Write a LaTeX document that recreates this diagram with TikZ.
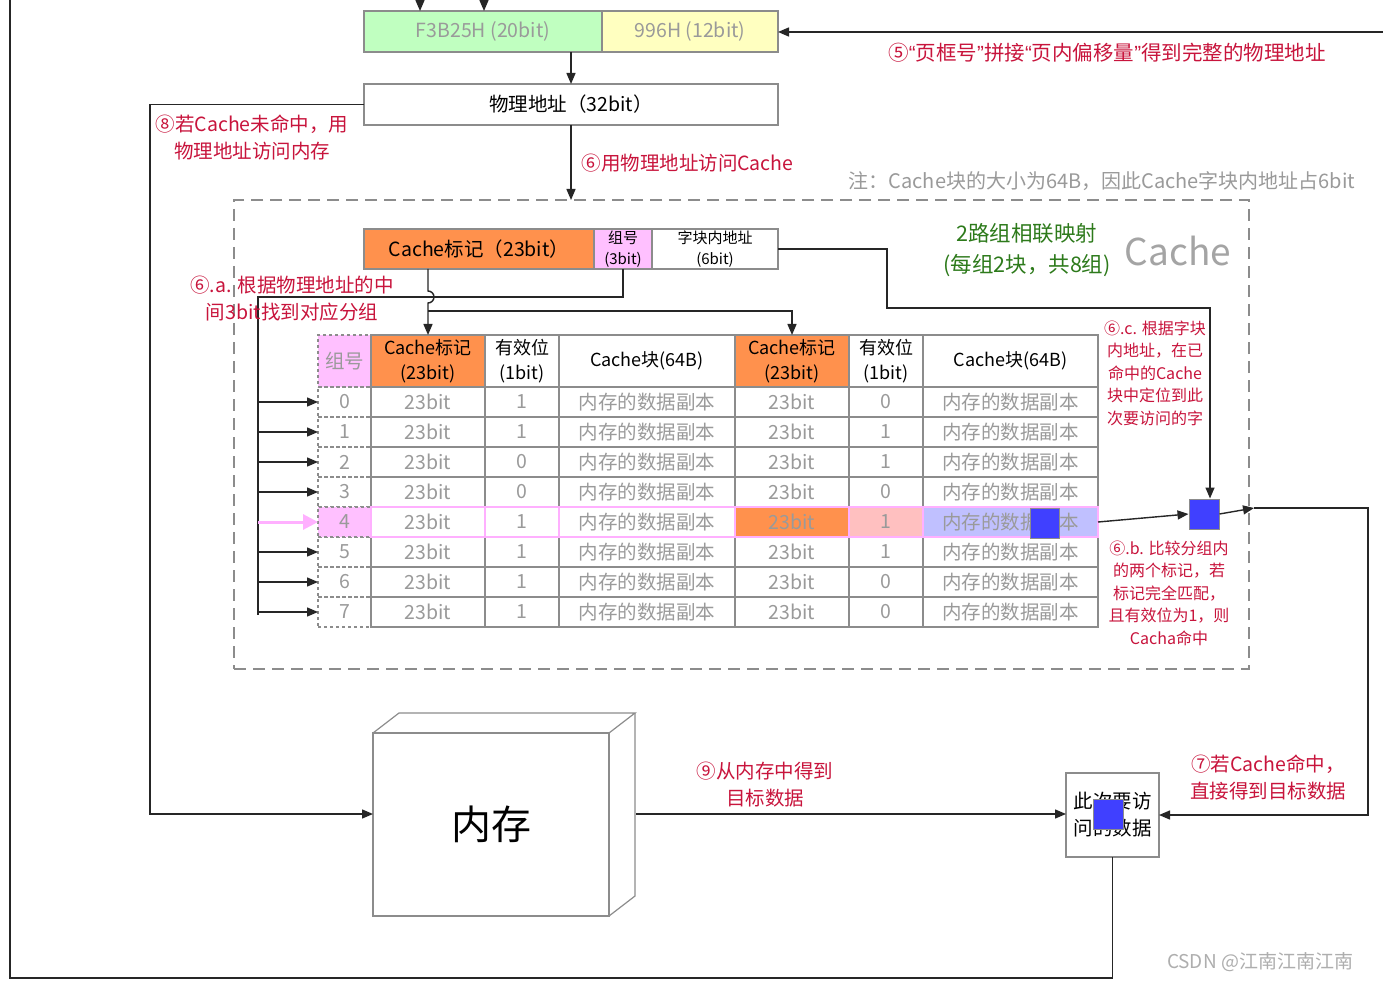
\documentclass[tikz,border=0pt]{standalone}
\usepackage{fontspec}
\setmainfont{Noto Sans CJK SC}
\newfontfamily\latq{Liberation Sans}
\usetikzlibrary{arrows.meta}
\definecolor{lgreen}{HTML}{C0FFC0}
\definecolor{lyellow}{HTML}{FFFFC0}
\definecolor{orng}{HTML}{FF914D}
\definecolor{pnk}{HTML}{FFC0FF}
\definecolor{pnkline}{HTML}{FFB0FF}
\definecolor{salmon}{HTML}{FFC0C0}
\definecolor{lblue}{HTML}{C0C0FF}
\definecolor{blu}{HTML}{4040FF}
\definecolor{redtxt}{HTML}{C8143C}
\definecolor{grntxt}{HTML}{2D7A1B}
\definecolor{gtxt}{HTML}{9A9A9A}
\definecolor{gline}{HTML}{8C8C8C}
\newcommand\mkcell[7]{%
 \pgfmathsetmacro\mcw{#4-#2}\pgfmathsetmacro\mch{#5-#3}%
 \pgfmathsetmacro\mcx{(#2+#4)/2}\pgfmathsetmacro\mcy{(#3+#5)/2}%
 \node[cellbase,#6,minimum width=\mcw pt,minimum height=\mch pt] (#1) at (\mcx,\mcy) {#7};}
\newcommand\myLq{{\latq “}}
\newcommand\myRq{{\latq ”}}
\begin{document}
\begin{tikzpicture}[x=1pt,y=-1pt,
 cellbase/.style={draw=gline,line width=1.5pt,inner sep=0pt,outer sep=0pt,align=center,text=gtxt,font=\fontsize{19.5}{22}\selectfont},
 hdr/.style={text=black,font=\fontsize{18}{25}\selectfont},
 hl/.style={draw=pnkline,line width=2.5pt},
 redl/.style={text=redtxt,align=center,font=\fontsize{19.5}{27}\selectfont},
 redsm/.style={text=redtxt,align=center,font=\fontsize{16}{22.5}\selectfont},
 line/.style={draw=black!85,line width=1.4pt},
 arr/.style={line,-{Triangle[length=11pt,width=9pt]}},
]
\useasboundingbox (0,0) rectangle (1383,981);
\fill[white] (0,0) rectangle (1383,981);

% dashed cache frame
\node[draw=gline,line width=2.5pt,dash pattern=on 12pt off 7pt,minimum width=1015pt,minimum height=469pt,inner sep=0pt,outer sep=0pt] (frame) at (741.5,434.5) {};

% top address boxes
\mkcell{f3}{364}{11}{602}{52}{fill=lgreen}{F3B25H (20bit)}
\mkcell{yel}{602}{11}{778}{52}{fill=lyellow}{996H (12bit)}
\mkcell{phys}{364}{84}{778}{125}{text=black,font=\fontsize{19.5}{22}\selectfont}{物理地址（32bit）}

\coordinate (ta1) at (420,0);
\coordinate (ta2) at (484,0);
\draw[arr] (ta1) -- (ta1 |- f3.north);
\draw[arr] (ta2) -- (ta2 |- f3.north);
\coordinate (r5) at (1383,32);
\draw[arr] (r5) -- (r5 -| yel.east);
\node[redl,font=\fontsize{20.5}{27}\selectfont] (l5) at (1107,53) {⑤\myLq 页框号\myRq 拼接\myLq 页内偏移量\myRq 得到完整的物理地址};
\draw[arr] (f3.south -| phys.north) -- (phys.north);
\draw[arr] (phys.south) -- (phys.south |- frame.north);
\node[redl,anchor=west] (l6) at (578,163) {⑥用物理地址访问Cache};
\node[text=gtxt,font=\fontsize{20}{22}\selectfont] (note) at (1102,181) {注：Cache块的大小为64B，因此Cache字块内地址占6bit};

% address split
\mkcell{tag}{364}{229}{594}{269}{fill=orng,text=black}{Cache标记（23bit）}
\mkcell{grp}{594}{229}{652}{269}{fill=pnk,text=black,font=\fontsize{15}{21}\selectfont}{组号\\(3bit)}
\mkcell{off}{652}{229}{778}{269}{text=black,font=\fontsize{15}{21}\selectfont}{字块内地址\\(6bit)}

\node[text=grntxt,align=center,font=\fontsize{21.5}{31}\selectfont] (green) at (1027,250) {2路组相联映射\\(每组2块，共8组)};
\node[text=gtxt!90,font=\fontsize{37}{40}\selectfont] (cachet) at (1178,251) {Cache};

% header row
\mkcell{h0}{318}{335}{371}{387}{fill=pnk,dashed}{组号}
\mkcell{h1}{371}{335}{485}{387}{fill=orng,hdr}{Cache标记\\(23bit)}
\mkcell{h2}{485}{335}{559}{387}{hdr}{有效位\\(1bit)}
\mkcell{h3}{559}{335}{735}{387}{hdr}{Cache块(64B)}
\mkcell{h5}{735}{335}{849}{387}{fill=orng,hdr}{Cache标记\\(23bit)}
\mkcell{h6}{849}{335}{923}{387}{hdr}{有效位\\(1bit)}
\mkcell{h7}{923}{335}{1098}{387}{hdr}{Cache块(64B)}

% data rows
\foreach \i/\va/\vb in {0/1/0,1/1/1,2/0/1,3/0/0,5/1/1,6/1/0,7/1/0}{
 \pgfmathsetmacro\ya{387+30*\i}\pgfmathsetmacro\yb{417+30*\i}
 \mkcell{g\i}{318}{\ya}{371}{\yb}{dashed}{\i}
 \mkcell{ta\i}{371}{\ya}{485}{\yb}{}{23bit}
 \mkcell{va\i}{485}{\ya}{559}{\yb}{}{\va}
 \mkcell{ba\i}{559}{\ya}{735}{\yb}{}{内存的数据副本}
 \mkcell{tb\i}{735}{\ya}{849}{\yb}{}{23bit}
 \mkcell{vb\i}{849}{\ya}{923}{\yb}{}{\vb}
 \mkcell{bb\i}{923}{\ya}{1098}{\yb}{}{内存的数据副本}
}
% highlighted row 4
\mkcell{g4}{318}{507}{371}{537}{fill=pnk,dashed}{4}
\mkcell{ta4}{371}{507}{485}{537}{hl}{23bit}
\mkcell{va4}{485}{507}{559}{537}{hl}{1}
\mkcell{ba4}{559}{507}{735}{537}{hl}{内存的数据副本}
\mkcell{tb4}{735}{507}{849}{537}{hl,fill=orng}{23bit}
\mkcell{vb4}{849}{507}{923}{537}{hl,fill=salmon}{1}
\mkcell{bb4}{923}{507}{1098}{537}{hl,fill=lblue}{内存的数据副本}
\node[draw=gline,line width=1pt,fill=blu,minimum width=29pt,minimum height=30pt,inner sep=0pt] (bw) at (1045,523) {};

% group-number bus
\coordinate (bustop) at (258,297);
\coordinate (busbot) at (258,615);
\draw[line] (grp.south) |- (bustop) -- (busbot);
\foreach \i in {0,1,2,3,5,6,7}{
 \coordinate (bus\i) at (258,402+30*\i);
 \draw[arr] (bus\i) -- (g\i.west);
}
\coordinate (bus4) at (258,522);
\draw[draw=pnkline,line width=3pt,-{Triangle[length=15pt,width=15pt]}] (bus4) -- (g4.west);

% tag line with hop
\coordinate (br) at (428,311);
\draw[arr] (h1.north |- tag.south) -- ++(0,22) arc[start angle=-90,end angle=90,radius=6] -- (h1.north);
\draw[arr] (br) -| (h5.north);

% offset line to word selector
\node[draw=gline,line width=1pt,fill=blu,minimum width=30pt,minimum height=30pt,inner sep=0pt] (sq) at (1204,514) {};
\coordinate (k1) at (887,308);
\coordinate (k2) at (1210,308);
\draw[arr] (off.east) -| (k1) -- (k2) -- (k2 |- sq.north);
\draw[arr] (bb4.east) -- (sq.west);

\node[redl] (l6a) at (292,299) {⑥.a. 根据物理地址的中\\间3bit找到对应分组};
\node[redsm] (l6c) at (1155,373) {⑥.c. 根据字块\\内地址，在已\\命中的Cache\\块中定位到此\\次要访问的字};
\node[redsm] (l6b) at (1169,593) {⑥.b. 比较分组内\\的两个标记，若\\标记完全匹配，\\且有效位为1，则\\Cacha命中};

% memory cube
\node[draw=gline,line width=1.2pt,minimum width=236pt,minimum height=183pt,inner sep=0pt,outer sep=0pt,font=\fontsize{40}{44}\selectfont] (mem) at (491,824.5) {内存};
\draw[gline,line width=1.2pt] (mem.north west) -- ++(26,-20) -- ++(236,0) -- (mem.north east);
\draw[gline,line width=1.2pt] (mem.north east) ++(26,-20) -- ++(0,183) -- (mem.south east);

% data box
\node[draw=gline,line width=1.5pt,minimum width=93pt,minimum height=84pt,inner sep=0pt,outer sep=0pt,align=center,font=\fontsize{19.5}{27}\selectfont] (data) at (1112.5,815) {此次要访\\问的数据};
\node[draw=gline,line width=1pt,fill=blu,minimum width=30pt,minimum height=30pt,inner sep=0pt] (dsq) at (1108,814) {};

% miss path
\coordinate (m8) at (150,814);
\draw[arr] (phys.west) -| (m8) -- (m8 -| mem.west);
\node[redl] (l8) at (252,137.5) {⑧若Cache未命中，用\\物理地址访问内存};

% memory to data
\coordinate (memR) at (636,814);
\draw[arr] (memR) -- (memR -| data.west);
\node[redl] (l9) at (765,784.5) {⑨从内存中得到\\目标数据};

% hit path
\coordinate (hitR) at (1254,508);
\coordinate (rc) at (1368,700);
\draw[arr] (sq.east) -- (hitR);
\draw[arr] (hitR) -| (rc) |- (data.east);
\node[redl] (l7) at (1268,777) {⑦若Cache命中，\\直接得到目标数据};

% outer loop
\coordinate (bl) at (10,978);
\coordinate (tl) at (10,0);
\draw[line] (data.south) -- (data.south |- bl) -| (tl);

\node[text=gtxt!80,font=\fontsize{19}{22}\selectfont] (csdn) at (1260,962) {CSDN @江南江南江南};
\end{tikzpicture}
\end{document}
